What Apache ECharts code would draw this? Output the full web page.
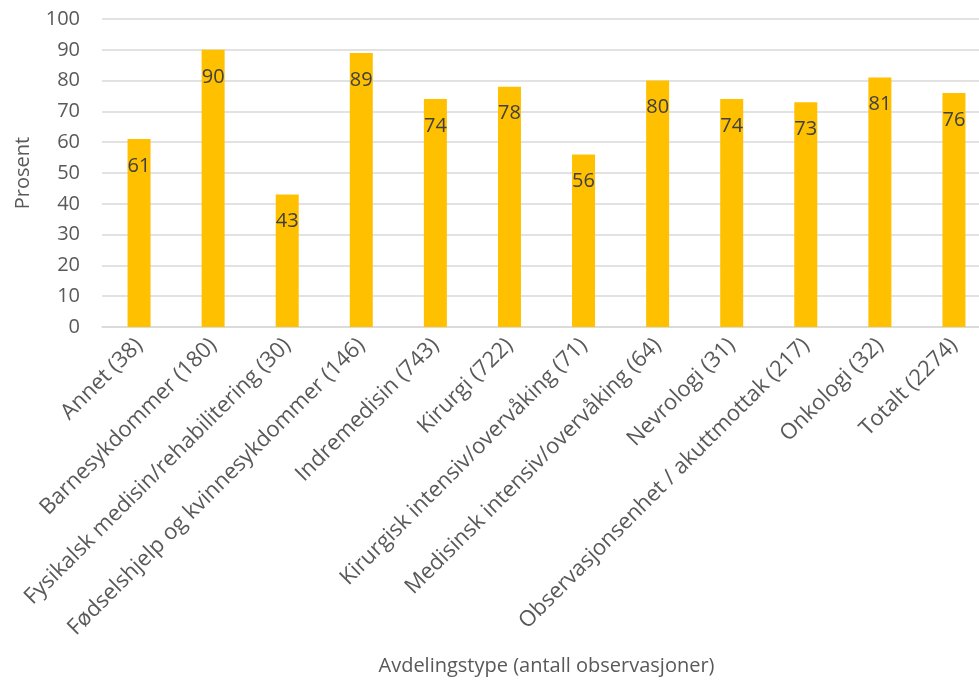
<!DOCTYPE html>
<html>
<head>
<meta charset="utf-8">
<script src="https://cdn.jsdelivr.net/npm/echarts@6/dist/echarts.min.js"></script>
<style>
html,body{margin:0;padding:0;background:#fff;}
#chart{width:979px;height:680px;}
</style>
</head>
<body>
<div id="chart"></div>
<script>
const categories = [
  "Annet (38)",
  "Barnesykdommer (180)",
  "Fysikalsk medisin/rehabilitering (30)",
  "Fødselshjelp og kvinnesykdommer (146)",
  "Indremedisin (743)",
  "Kirurgi (722)",
  "Kirurgisk intensiv/overvåking (71)",
  "Medisinsk intensiv/overvåking (64)",
  "Nevrologi (31)",
  "Observasjonsenhet / akuttmottak (217)",
  "Onkologi (32)",
  "Totalt (2274)"
];
const values = [61, 90, 43, 89, 74, 78, 56, 80, 74, 73, 81, 76];
const yTicks = { min: 0, max: 100, interval: 10 };
const yAxisName = "Prosent";
const xAxisName = "Avdelingstype (antall observasjoner)";

const FONT = "Open Sans";
const chart = echarts.init(document.getElementById('chart'), null, {renderer: 'canvas'});
chart.setOption({
  backgroundColor: '#ffffff',
  animation: false,
  textStyle: { fontFamily: FONT },
  grid: { left: 102, top: 19, width: 889, height: 308, containLabel: false, outerBoundsMode: 'none' },
  xAxis: {
    type: 'category',
    data: categories,
    name: xAxisName,
    nameLocation: 'middle',
    nameGap: 329,
    nameTextStyle: { fontFamily: FONT, fontSize: 20, color: '#595959' },
    axisLine: { show: true, lineStyle: { color: '#d9d9d9', width: 1.5 } },
    axisTick: { show: false },
    axisLabel: {
      interval: 0,
      rotate: 45,
      margin: 15,
      fontFamily: FONT,
      fontSize: 22,
      color: '#595959'
    }
  },
  yAxis: {
    type: 'value',
    min: yTicks.min,
    max: yTicks.max,
    interval: yTicks.interval,
    name: yAxisName,
    nameLocation: 'middle',
    nameGap: 69,
    nameRotate: 90,
    nameTextStyle: { fontFamily: FONT, fontSize: 20, color: '#595959' },
    axisLine: { show: false },
    axisTick: { show: false },
    axisLabel: { margin: 22, fontFamily: FONT, fontSize: 20, color: '#595959' },
    splitLine: { show: true, lineStyle: { color: '#d9d9d9', width: 1.5 } }
  },
  series: [{
    type: 'bar',
    data: values,
    barWidth: 23,
    itemStyle: { color: '#FFC000' },
    label: {
      show: true,
      position: 'insideTop',
      distance: 17,
      fontFamily: FONT,
      fontSize: 20,
      color: '#404040'
    }
  }]
});
</script>
</body>
</html>
